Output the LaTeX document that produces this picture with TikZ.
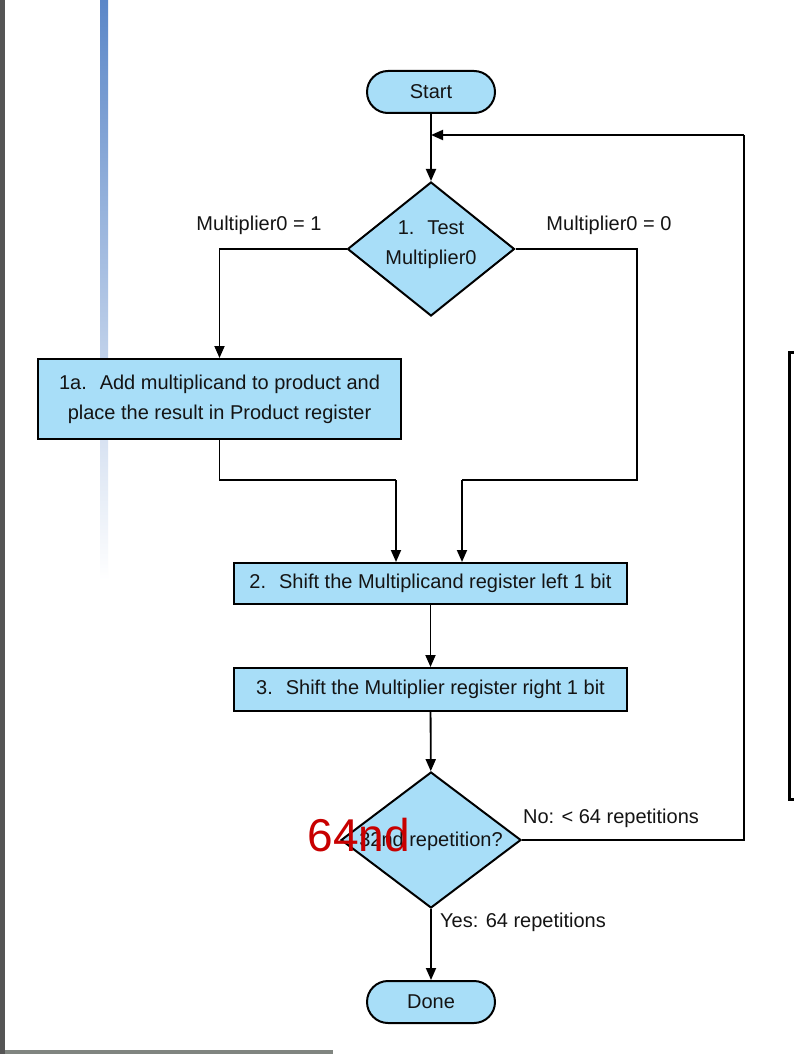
\documentclass[tikz,border=0pt]{standalone}
\usepackage{fontspec}
\setmainfont{Liberation Sans}
\usetikzlibrary{shapes.geometric,arrows.meta,calc}
\definecolor{boxfill}{RGB}{168,222,248}
\definecolor{txt}{RGB}{20,20,20}
\definecolor{barblue}{RGB}{91,135,200}
\definecolor{barmid}{RGB}{205,217,238}
\definecolor{darkbar}{RGB}{85,85,85}
\definecolor{botline}{RGB}{128,133,128}
\definecolor{redtxt}{RGB}{200,0,0}
\begin{document}
\begin{tikzpicture}[x=1pt,y=-1pt,
  every node/.style={font=\fontsize{20}{30}\selectfont, text=txt},
  procbox/.style={draw=black, line width=2pt, fill=boxfill, rectangle, inner sep=0pt, align=center},
  termbox/.style={draw=black, line width=2pt, fill=boxfill, rectangle, rounded corners=21pt, minimum width=128pt, minimum height=42pt, inner sep=0pt},
  decbox/.style={draw=black, line width=2pt, fill=boxfill, diamond, inner sep=0pt, align=center},
  lbl/.style={inner sep=0pt, align=center},
  arr/.style={line width=1.8pt, draw=black, -{Triangle[length=12pt,width=10pt]}},
  conn/.style={line width=1.8pt, draw=black}]
\useasboundingbox (0,0) rectangle (794,1054);
\fill[white] (0,0) rectangle (794,1054);
% decorations of the page
\fill[darkbar] (0,0) rectangle (5,1054);
\shade[top color=barblue, middle color=barmid, bottom color=white] (100,0) rectangle (108,580);
\fill[botline] (5,1050) rectangle (333,1054);
\draw[line width=3pt] (794,352) -- (789,352) -- (789,799) -- (794,799);

% nodes
\node[termbox] (start) at (431,92) {Start};
\node[decbox, minimum width=167pt, minimum height=134pt] (d1) at (431,249) {};
\node[lbl] (d1t) at (431,244.5) {1.~ Test\\Multiplier0};
\node[procbox, minimum width=363pt, minimum height=80pt] (b1a) at (219.5,399) {1a.~ Add multiplicand to product and\\place the result in Product register};
\node[procbox, minimum width=393pt, minimum height=41pt] (b2) at (430.5,583.5) {2.~ Shift the Multiplicand register left 1 bit};
\node[procbox, minimum width=393pt, minimum height=43pt] (b3) at (430.5,689.5) {3.~ Shift the Multiplier register right 1 bit};
\node[decbox, minimum width=180pt, minimum height=136pt] (d2) at (431,840) {};
\node[lbl, anchor=base] (d2t) at (431,846) {32nd repetition?};
\node[lbl, anchor=base, text=redtxt, font=\fontsize{46}{50}\selectfont] (red) at (359,851) {64nd};
\node[termbox] (done) at (431,1002) {Done};

% labels
\node[lbl] (l1) at (259,225) {Multiplier0 = 1};
\node[lbl] (l0) at (609,225) {Multiplier0 = 0};
\node[lbl] (lno) at (611,818) {No: < 64 repetitions};
\node[lbl] (lyes) at (523,922) {Yes: 64 repetitions};

% coordinates
\coordinate (merge) at (431,135);
\coordinate (fb) at (744,135);
\coordinate (lj) at (396,480);
\coordinate (rj) at (637,480);
\coordinate (rj2) at (462,480);

% connectors
\draw[arr] (start) -- (d1);
\draw[arr] (d1.west) -| (b1a.north);
\draw[conn] (d1.east) -| (rj) -- (rj2);
\draw[arr] (rj2) -- (rj2 |- b2.north);
\draw[conn] (b1a.south) |- (lj);
\draw[arr] (lj) -- (lj |- b2.north);
\draw[arr] (b2) -- (b3);
\draw[arr] (b3) -- (d2);
\draw[arr] (d2) -- (done);
\draw[conn] (d2.east) -| (fb);
\draw[arr] (fb) -- (merge);
\end{tikzpicture}
\end{document}
